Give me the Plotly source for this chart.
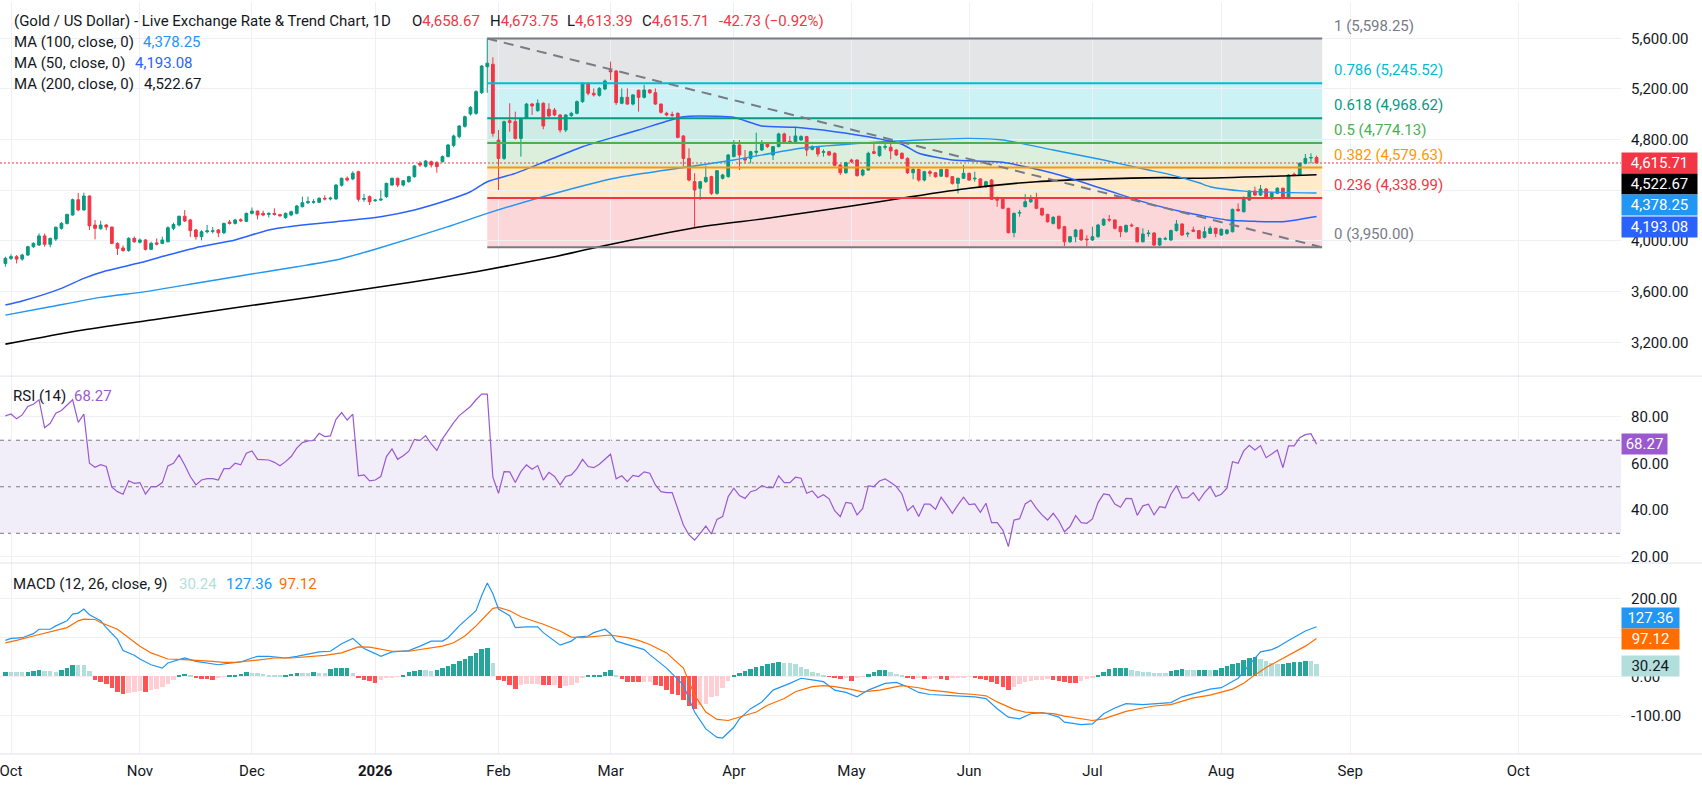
import pandas as pd
import plotly.graph_objects as go

FONT = "Roboto, 'Open Sans', sans-serif"
INK = "#131722"
UP, DOWN = "#089981", "#F23645"
GRID = "#eef0f4"

# trading calendar of the daily bars (weekdays, minus days without a bar)
first_day, last_day = "2025-09-30", "2026-08-26"
holidays = ["2025-12-25", "2026-04-03"]

# daily candles (one row = 10 bars)
opens = [
    3823, 3863, 3876, 3857, 3889, 3955, 3968, 4040, 3974, 4015,
    4100, 4139, 4205, 4326, 4245, 4355, 4126, 4097, 4126, 4110,
    3981, 3945, 3925, 4021, 3990, 4008, 3934, 3985, 3981, 3994,
    4100, 4126, 4195, 4166, 4087, 4034, 4073, 4076, 4087, 4065,
    4150, 4139, 4168, 4155, 4218, 4236, 4218, 4210, 4218, 4208,
    4184, 4205, 4218, 4271, 4302, 4305, 4305, 4337, 4332, 4332,
    4440, 4495, 4490, 4547, 4329, 4350, 4318, 4323, 4350, 4442,
    4495, 4442, 4468, 4508, 4613, 4590, 4626, 4620, 4626, 4666,
    4755, 4824, 4905, 5003, 5008, 5171, 5376, 5395, 4797, 4652,
    4950, 4942, 4810, 4975, 5081, 5029, 5087, 5040, 5034, 4995,
    4876, 4990, 5008, 5100, 5240, 5166, 5150, 5200, 5345, 5342,
    5087, 5134, 5081, 5190, 5134, 5192, 5171, 5081, 5008, 4998,
    5008, 4829, 4652, 4468, 4416, 4468, 4508, 4376, 4495, 4508,
    4666, 4758, 4652, 4652, 4700, 4718, 4771, 4679, 4745, 4845,
    4787, 4784, 4797, 4824, 4724, 4740, 4700, 4705, 4692, 4600,
    4539, 4639, 4639, 4521, 4560, 4705, 4674, 4740, 4740, 4718,
    4692, 4652, 4539, 4565, 4481, 4547, 4539, 4512, 4565, 4508,
    4455, 4495, 4534, 4490, 4490, 4429, 4481, 4329, 4329, 4258,
    4066, 4220, 4271, 4310, 4329, 4258, 4210, 4139, 4195, 4113,
    3994, 4034, 4087, 4015, 4008, 4034, 4126, 4171, 4166, 4113,
    4073, 4126, 4105, 3994, 4058, 4063, 3968, 4015, 4008, 4082,
    4134, 4055, 4087, 4082, 4029, 4060, 4100, 4047, 4060, 4073,
    4250, 4231, 4323, 4395, 4363, 4410, 4345, 4376, 4416, 4337,
    4526, 4521, 4613, 4655, 4658.67,
]
highs = [
    3876, 3895, 3889, 3900, 3962, 3990, 4060, 4058, 4025, 4115,
    4150, 4215, 4335, 4380, 4381, 4360, 4166, 4160, 4135, 4112,
    3990, 3965, 4030, 4035, 4020, 4015, 3995, 4021, 4034, 4115,
    4145, 4200, 4245, 4175, 4095, 4085, 4126, 4110, 4095, 4145,
    4166, 4175, 4179, 4225, 4264, 4240, 4240, 4225, 4258, 4215,
    4225, 4240, 4285, 4350, 4350, 4330, 4345, 4360, 4350, 4448,
    4500, 4510, 4550, 4555, 4372, 4360, 4330, 4402, 4460, 4500,
    4500, 4480, 4515, 4600, 4630, 4640, 4635, 4630, 4675, 4765,
    4840, 4915, 4990, 5065, 5190, 5390, 5598.25, 5450, 4876, 4950,
    5087, 5021, 4965, 5090, 5090, 5118, 5095, 5087, 5050, 5000,
    5000, 5020, 5110, 5255, 5255, 5205, 5215, 5275, 5416, 5350,
    5205, 5205, 5160, 5195, 5232, 5200, 5205, 5085, 5020, 5021,
    5015, 4835, 4731, 4534, 4475, 4595, 4515, 4560, 4530, 4687,
    4797, 4797, 4718, 4712, 4855, 4797, 4780, 4750, 4855, 4855,
    4829, 4897, 4835, 4830, 4755, 4745, 4723, 4712, 4700, 4605,
    4625, 4650, 4645, 4570, 4705, 4771, 4752, 4771, 4766, 4725,
    4700, 4660, 4575, 4570, 4555, 4560, 4545, 4570, 4570, 4512,
    4500, 4600, 4540, 4547, 4495, 4475, 4490, 4350, 4335, 4262,
    4225, 4245, 4370, 4363, 4380, 4262, 4215, 4195, 4200, 4120,
    4040, 4095, 4095, 4045, 4113, 4135, 4180, 4205, 4170, 4120,
    4130, 4139, 4110, 4100, 4087, 4070, 4025, 4034, 4090, 4166,
    4140, 4073, 4113, 4087, 4113, 4118, 4105, 4100, 4095, 4255,
    4297, 4350, 4400, 4429, 4442, 4418, 4388, 4425, 4422, 4528,
    4540, 4620, 4687, 4692, 4673.75,
]
lows = [
    3797, 3850, 3823, 3845, 3882, 3945, 3960, 3955, 3950, 4000,
    4090, 4130, 4200, 4235, 4240, 4087, 4013, 4090, 4085, 3975,
    3889, 3915, 3915, 3985, 3980, 3925, 3928, 3965, 3975, 3990,
    4085, 4115, 4150, 4032, 4010, 4005, 4060, 4060, 4030, 4055,
    4130, 4130, 4150, 4150, 4210, 4170, 4195, 4185, 4200, 4190,
    4175, 4195, 4210, 4265, 4292, 4295, 4300, 4320, 4320, 4325,
    4430, 4470, 4480, 4310, 4310, 4284, 4310, 4315, 4340, 4435,
    4425, 4430, 4460, 4500, 4585, 4580, 4580, 4540, 4620, 4660,
    4740, 4810, 4895, 4990, 4995, 5160, 5170, 4824, 4402, 4640,
    4863, 4800, 4666, 4965, 4995, 5020, 4882, 4975, 4985, 4855,
    4860, 4980, 5000, 5090, 5150, 5140, 5140, 5190, 5270, 5074,
    5080, 5074, 5070, 5021, 5125, 5160, 5075, 5005, 4985, 4980,
    4810, 4587, 4470, 4100, 4323, 4460, 4363, 4365, 4485, 4500,
    4660, 4560, 4613, 4613, 4666, 4710, 4735, 4639, 4740, 4775,
    4770, 4775, 4790, 4670, 4715, 4666, 4666, 4670, 4590, 4521,
    4530, 4615, 4508, 4510, 4555, 4685, 4665, 4720, 4645, 4670,
    4645, 4530, 4487, 4468, 4470, 4508, 4500, 4505, 4500, 4445,
    4376, 4490, 4475, 4468, 4420, 4420, 4323, 4271, 4250, 4060,
    4030, 4192, 4265, 4300, 4250, 4195, 4145, 4130, 4090, 3960,
    3985, 3990, 4000, 3955, 4000, 4025, 4118, 4150, 4090, 4030,
    4065, 4110, 3988, 3988, 4034, 3960, 3960, 4005, 4000, 4075,
    4040, 4030, 4070, 4015, 4020, 4055, 4030, 4040, 4050, 4068,
    4230, 4225, 4318, 4355, 4355, 4338, 4323, 4370, 4330, 4330,
    4510, 4515, 4605, 4613, 4613.39,
]
closes = [
    3863, 3876, 3857, 3889, 3955, 3981, 4040, 3974, 4021, 4108,
    4139, 4210, 4326, 4245, 4355, 4120, 4100, 4126, 4110, 3981,
    3942, 3925, 4021, 3994, 4008, 3934, 3981, 3975, 4008, 4105,
    4130, 4195, 4158, 4082, 4034, 4073, 4080, 4080, 4065, 4139,
    4139, 4166, 4160, 4218, 4236, 4205, 4205, 4218, 4210, 4200,
    4218, 4231, 4276, 4302, 4310, 4310, 4337, 4332, 4338, 4442,
    4495, 4481, 4534, 4329, 4335, 4310, 4323, 4330, 4455, 4495,
    4442, 4476, 4508, 4592, 4600, 4631, 4600, 4587, 4666, 4758,
    4829, 4908, 4981, 5055, 5179, 5381, 5403, 4850, 4652, 4942,
    4935, 4810, 4960, 5081, 5066, 5087, 4908, 4987, 4995, 4876,
    4995, 5008, 5100, 5245, 5166, 5153, 5205, 5263, 5336, 5092,
    5134, 5081, 5153, 5134, 5192, 5171, 5081, 5016, 4995, 4992,
    4818, 4652, 4481, 4402, 4468, 4502, 4376, 4555, 4521, 4679,
    4758, 4679, 4639, 4705, 4707, 4766, 4745, 4745, 4845, 4784,
    4781, 4829, 4824, 4718, 4745, 4687, 4705, 4679, 4597, 4539,
    4618, 4626, 4516, 4560, 4692, 4692, 4745, 4745, 4711, 4679,
    4652, 4539, 4565, 4481, 4547, 4534, 4508, 4565, 4508, 4455,
    4495, 4534, 4481, 4495, 4429, 4468, 4329, 4323, 4258, 4066,
    4218, 4225, 4310, 4329, 4258, 4205, 4152, 4187, 4100, 3994,
    4034, 4087, 4008, 4010, 4034, 4126, 4171, 4166, 4100, 4073,
    4123, 4120, 3994, 4055, 4062, 3968, 4021, 4018, 4082, 4134,
    4047, 4060, 4077, 4021, 4073, 4100, 4060, 4092, 4087, 4250,
    4240, 4345, 4395, 4363, 4410, 4345, 4381, 4416, 4337, 4521,
    4521, 4613, 4652, 4659, 4615.71,
]

# moving averages: (bar index, value) points
ma50 = [(0, 3494), (3, 3526), (10, 3626), (14, 3705), (18, 3765), (24, 3828), (29, 3889),
        (34, 3947), (41, 4008), (47, 4087), (53, 4126), (59, 4152), (67, 4192), (73, 4245),
        (79, 4323), (83, 4389), (86, 4468), (91, 4534), (97, 4639), (103, 4744), (108, 4812),
        (113, 4876), (121, 4981), (127, 4984), (130, 4976), (135, 4908), (141, 4897),
        (148, 4863), (154, 4823), (160, 4764), (163, 4692), (169, 4639), (178, 4621),
        (187, 4534), (196, 4410), (204, 4297), (210, 4231), (213, 4205), (218, 4166),
        (223, 4155), (228, 4152), (234, 4193.08)]
ma100 = [(0, 3415), (8, 3481), (17, 3555), (25, 3600), (34, 3666), (41, 3718), (52, 3797),
         (59, 3850), (66, 3935), (79, 4113), (86, 4218), (97, 4363), (106, 4468), (110, 4507),
         (118, 4560), (130, 4639), (142, 4732), (154, 4776), (163, 4797), (172, 4810),
         (178, 4797), (187, 4718), (196, 4639), (204, 4560), (207, 4534), (213, 4460),
         (215, 4428), (221, 4394), (234, 4378.25)]
ma200 = [(0, 3186), (13, 3292), (27, 3382), (41, 3473), (55, 3560), (70, 3658), (84, 3757),
         (98, 3876), (106, 3955), (123, 4105), (136, 4179), (151, 4276), (161, 4345),
         (172, 4416), (184, 4468), (196, 4490), (207, 4500), (213, 4495), (229, 4515),
         (234, 4522.67)]

# RSI(14), one value per bar
rsi = [
    80.5, 81.3, 79.2, 80.9, 84.5, 85.5, 87.4, 75.4, 77.3, 81.6,
    82.8, 85.2, 87.4, 77.7, 81.2, 60.1, 58.4, 59.5, 58.7, 49.8,
    47.9, 46.8, 52.6, 51.5, 51.8, 46.9, 50.1, 50.1, 51.8, 59.0,
    60.1, 63.7, 59.4, 54.4, 50.8, 52.9, 53.5, 53.5, 52.9, 57.8,
    57.8, 60.1, 59.4, 64.4, 65.4, 61.8, 61.5, 61.5, 60.5, 59.0,
    60.8, 63.0, 66.6, 69.0, 69.7, 69.9, 73.0, 71.6, 71.9, 79.0,
    81.9, 78.7, 81.2, 54.7, 55.1, 52.5, 52.9, 54.4, 63.0, 66.3,
    61.8, 63.3, 65.3, 70.4, 69.9, 72.0, 68.4, 65.6, 70.6, 74.4,
    77.6, 80.6, 82.6, 84.5, 87.4, 89.8, 89.8, 54.1, 47.2, 56.5,
    56.4, 51.8, 56.5, 59.4, 57.5, 59.1, 52.9, 56.2, 54.4, 50.8,
    54.4, 55.1, 57.8, 61.8, 58.7, 58.2, 59.7, 62.0, 64.0, 53.4,
    54.7, 52.2, 54.9, 54.4, 56.4, 55.8, 50.8, 47.9, 47.5, 47.5,
    40.7, 33.6, 29.3, 27.1, 30.0, 33.1, 29.7, 36.0, 37.2, 45.8,
    49.4, 46.2, 45.0, 47.9, 48.6, 50.5, 49.6, 49.6, 54.7, 51.8,
    51.8, 54.1, 53.7, 47.2, 48.2, 45.3, 46.6, 44.8, 39.7, 37.2,
    43.3, 42.9, 37.9, 40.7, 50.4, 50.1, 52.5, 53.4, 51.8, 50.1,
    46.9, 39.7, 41.9, 37.2, 42.5, 42.5, 40.3, 45.5, 42.2, 38.6,
    42.2, 45.5, 42.3, 42.6, 39.0, 42.9, 34.6, 34.6, 31.4, 24.3,
    35.7, 36.3, 42.6, 44.2, 40.7, 37.9, 35.7, 38.6, 35.4, 30.7,
    32.9, 37.6, 34.6, 34.3, 36.2, 43.2, 46.9, 46.5, 42.6, 41.2,
    45.0, 44.9, 37.7, 41.8, 42.5, 37.9, 41.5, 41.0, 46.8, 50.5,
    45.2, 45.3, 47.5, 44.0, 47.5, 50.1, 45.8, 46.8, 49.4, 60.8,
    60.1, 65.4, 67.8, 65.8, 67.7, 62.5, 64.1, 65.8, 58.2, 67.6,
    67.6, 71.1, 72.4, 72.8, 68.27,
]

# MACD (12, 26, 9): histogram per bar, lines as (bar index, value) points
macd_hist = [
    10, 9.8, 9.6, 9.5, 12, 14, 16, 13, 12.5, 12,
    16, 20, 29, 28.5, 27.5, 13, -8.6, -14.7, -19.9, -30,
    -41.5, -45.8, -42, -39.5, -39, -40.6, -34.6, -32.8, -28.5, -20,
    -10.4, 4.3, 6, 2.6, -5, -6.9, -7.2, -9.5, -4.3, -0.9,
    2.6, 4.3, 6.9, 10.4, 8.6, 8.4, 6.9, 4.3, 2.6, 2.2,
    4.3, 6.9, 7.8, 7.6, 7.4, 10.4, 8.6, 8.4, 17.3, 19.9,
    20.2, 21.6, 8.6, -2.6, -8.6, -13, -17.3, -9.5, -4.3, -4.0,
    -1.7, 4.3, 10.4, 13, 15.6, 15, 13, 15.6, 21.6, 25.9,
    30, 38.9, 43.2, 51.8, 60, 69.1, 73.4, 34.6, -8.6, -13,
    -23, -32.8, -21.6, -20, -19.9, -19.5, -23.3, -23.5, -21.6, -30.2,
    -25.9, -23.3, -17.3, -2.6, 2.6, 2.8, 4.3, 10.4, 15.6, 2.6,
    -6, -14.7, -15, -15.5, -14.7, -14.5, -23.3, -26, -35, -45,
    -48, -62, -76, -84, -74, -70, -54, -50, -30, -12,
    3, 8, 13, 18, 23, 27, 30, 33, 36, 35,
    34, 30, 24, 18, 12, 8, 4, -2, -5, -8,
    -4, -13, -3, -1, 5, 12, 15, 15.5, 10, 6,
    2, -4, -6, -5, -7, -6, -5, -8, -9, -4,
    -4, -3, -1.5, -5, -8, -10, -14, -20, -28, -35,
    -28, -20, -15, -12, -10, -9, -8, -8.5, -12, -16,
    -18, -18.5, -12, -8, -5, 3, 10, 18, 20, 20.5,
    21, 15, 14, 12, 10, 8, 7.5, 7, 14, 17,
    17.5, 16, 15.5, 16.5, 17, 16, 17, 20, 26, 30,
    35, 42, 46, 48, 45, 40, 35, 30, 31, 33,
    36, 37, 40, 38, 30.24,
]
macd_line = [(0, 92.5), (1, 97.6), (3, 99.4), (5, 109.7), (6, 121), (8, 121), (9, 129.6),
             (11, 142.6), (12, 159.8), (13, 162.4), (14, 172.8), (15, 158), (17, 142.6),
             (18, 125.3), (20, 95), (21, 66.5), (23, 54.4), (24, 44.9), (26, 30.2), (28, 21.6),
             (29, 34.6), (32, 47.5), (34, 38.9), (36, 34.6), (38, 30.2), (40, 34.6), (42, 37.2),
             (44, 47.5), (45, 51.8), (47, 51.8), (50, 47.5), (52, 51.8), (54, 57.9), (56, 63.1),
             (58, 64.8), (60, 83.8), (62, 97.6), (64, 71.7), (66, 58.8), (67, 51.8), (69, 63.1),
             (72, 66.5), (74, 77.8), (76, 90.7), (78, 90.7), (79, 99.4), (81, 129.6), (84, 168.5),
             (85, 207.4), (86, 239.3), (87, 211.7), (88, 172.8), (90, 155.5), (91, 125.3),
             (93, 127), (95, 127), (96, 112.3), (98, 90.7), (99, 80.4), (101, 90.7), (102, 101.1),
             (104, 103.7), (105, 112.3), (107, 121), (108, 109.7), (109, 90.7), (111, 82.1),
             (112, 77.8), (114, 69.1), (115, 56.2), (118, 21.6), (121, -21.6), (123, -90.7),
             (125, -133.9), (127, -155.5), (128, -157.2), (130, -129.6), (131, -108),
             (133, -82.1), (135, -64.8), (137, -34.6), (140, -17.3), (142, -4.3), (144, -8.6),
             (146, -13), (148, -34.6), (150, -40.6), (152, -51.8), (154, -34.6), (157, -17.3),
             (159, -14.7), (161, -25.9), (163, -40.6), (165, -45.8), (168, -47.5), (170, -50.1),
             (173, -51.8), (175, -56.2), (177, -82.1), (179, -103.7), (181, -108), (183, -95),
             (185, -92.4), (186, -95), (188, -103.7), (189, -116.6), (192, -122.7), (194, -121),
             (196, -95), (198, -80.4), (200, -69.1), (203, -71.7), (205, -69.1), (208, -66.5),
             (210, -51.8), (212, -43.2), (215, -32), (217, -28.5), (220, -4.3), (222, 30.2),
             (224, 63.1), (226, 69.1), (227, 75.2), (229, 92.4), (232, 116.6), (234, 127.36)]
signal_line = [(0, 86.4), (2, 92.4), (5, 103.7), (8, 114), (11, 125.3), (13, 142.6), (14, 146.9),
               (16, 146), (17, 138.2), (20, 121), (22, 99.4), (24, 77.8), (26, 60.5), (29, 44.9),
               (32, 43.2), (35, 41.5), (37, 38.9), (39, 36.3), (41, 36.3), (45, 42.3), (48, 47.5),
               (51, 47.5), (54, 50.1), (57, 54.4), (60, 60.5), (63, 76), (65, 75.2), (67, 69.1),
               (69, 64.8), (72, 64.8), (75, 71.7), (78, 77.8), (80, 86.4), (82, 103.7),
               (84, 129.6), (86, 159.8), (87, 174.5), (88, 177.1), (90, 168.5), (92, 152.9),
               (94, 144.3), (96, 133.9), (99, 116.6), (101, 101.1), (103, 99.4), (106, 103.7),
               (108, 106.3), (111, 99.4), (113, 92.4), (115, 82.1), (118, 60.5), (121, 21.6),
               (123, -47.5), (125, -90.7), (127, -109.7), (129, -112.3), (131, -103.7),
               (134, -90.7), (136, -73.4), (139, -56.2), (141, -38.9), (144, -25.9), (146, -23.3),
               (148, -25.9), (151, -32.8), (153, -38.9), (156, -34.6), (158, -28.5), (160, -23.3),
               (163, -28.5), (165, -34.6), (168, -38.9), (170, -43.2), (173, -45.8), (175, -49.2),
               (177, -64.8), (180, -83.8), (182, -90.7), (185, -92.4), (187, -95), (189, -101.1),
               (192, -108), (194, -112.3), (196, -108), (198, -99.4), (200, -89), (203, -80.4),
               (205, -75.2), (208, -71.7), (210, -63.1), (212, -54.4), (215, -47.5), (217, -38.9),
               (219, -32), (221, -17.3), (223, 4.3), (225, 23.3), (227, 38.9), (229, 56.2),
               (232, 77.8), (234, 97.12)]

# Fibonacci retracement drawn from the Jan 29 high to the 3,950 low
fib_ratios = [1, 0.786, 0.618, 0.5, 0.382, 0.236, 0]
fib_prices = [5598.25, 5245.52, 4968.62, 4774.13, 4579.63, 4338.99, 3950.00]
fib_colors = ["#787B86", "#00BCD4", "#089981", "#4CAF50", "#FF9800", "#F23645", "#787B86"]
fib_start, fib_end = "2026-01-29 12:00", "2026-08-27 12:00"

price_ticks = [3200, 3600, 4000, 4400, 4800, 5200, 5600]
rsi_ticks = [20, 40, 60, 80]
macd_ticks = [-100, 0, 100, 200]
month_starts = ["2025-10-01", "2025-11-03", "2025-12-01", "2026-01-01", "2026-02-02",
                "2026-03-02", "2026-04-01", "2026-05-01", "2026-06-01", "2026-07-01",
                "2026-08-03", "2026-09-01", "2026-10-01"]
month_labels = ["Oct", "Nov", "Dec", "<b>2026</b>", "Feb", "Mar", "Apr", "May", "Jun", "Jul",
                "Aug", "Sep", "Oct"]

# ---------------------------------------------------------------------------
days = pd.bdate_range(first_day, last_day)
days = days[~days.isin(pd.to_datetime(holidays))]
assert len(days) == len(closes) == len(opens) == len(highs) == len(lows) == len(rsi) == len(macd_hist)
x = days + pd.Timedelta(hours=12)          # bars sit mid-day
bar_days = set(days.strftime("%Y-%m-%d"))
gaps = [d for d in pd.date_range(first_day, last_day).strftime("%Y-%m-%d") if d not in bar_days]
half = pd.Timedelta(hours=12)


def line_xy(pts):
    return [x[i] for i, _ in pts], [v for _, v in pts]


hist_colors = []
prev = 0
for h in macd_hist:
    if h >= 0:
        hist_colors.append("#26A69A" if h > prev else "#B2DFDB")
    else:
        hist_colors.append("#FF5252" if h < prev else "#FFCDD2")
    prev = h

RSI_C = "#9b59d0"
fig = go.Figure()

fig.add_trace(go.Candlestick(
    x=x, open=opens, high=highs, low=lows, close=closes,
    increasing=dict(line=dict(color=UP, width=1), fillcolor=UP),
    decreasing=dict(line=dict(color=DOWN, width=1), fillcolor=DOWN),
    whiskerwidth=0, xaxis="x", yaxis="y", hoverinfo="skip"))
for pts, col, w in [(ma200, "#000000", 1.6), (ma100, "#2196F3", 1.4), (ma50, "#2962FF", 1.5)]:
    mx, my = line_xy(pts)
    fig.add_trace(go.Scatter(x=mx, y=my, mode="lines", xaxis="x", yaxis="y",
                             line=dict(color=col, width=w, shape="spline", smoothing=0.6)))

fig.add_trace(go.Scatter(x=x, y=rsi, mode="lines", xaxis="x2", yaxis="y2",
                         line=dict(color=RSI_C, width=1.2)))

fig.add_trace(go.Bar(x=x, y=macd_hist, marker=dict(color=hist_colors, line=dict(width=0)),
                     width=0.8 * 86400000, xaxis="x3", yaxis="y3"))
mx, my = line_xy(macd_line)
fig.add_trace(go.Scatter(x=mx, y=my, mode="lines", xaxis="x3", yaxis="y3",
                         line=dict(color="#2196F3", width=1.2)))
mx, my = line_xy(signal_line)
fig.add_trace(go.Scatter(x=mx, y=my, mode="lines", xaxis="x3", yaxis="y3",
                         line=dict(color="#FF6D00", width=1.2)))

x_view = [pd.Timestamp("2025-09-29 12:52"), pd.Timestamp("2026-10-19 20:00")]
tick_x = [pd.Timestamp(m) + half for m in month_starts]
xcommon = dict(range=x_view, rangebreaks=[dict(values=gaps, dvalue=86400000)],
               tickvals=tick_x, ticktext=month_labels, showgrid=True, gridcolor=GRID,
               zeroline=False, showline=False, ticks="", fixedrange=True)
ycommon = dict(side="right", showgrid=True, gridcolor=GRID, zeroline=False, showline=False,
               ticks="", ticklabelstandoff=9, automargin=False, fixedrange=True,
               tickfont=dict(size=15, color=INK))

# labels that sit under the value tags in the original: only their grid lines show
price_text = ["" if v == 4400 else f"{v:,.2f}" for v in price_ticks]
macd_text = ["" if v == 100 else f"{v:.2f}" for v in macd_ticks]

fig.update_layout(
    width=1702, height=791,
    margin=dict(l=0, r=81, t=2, b=37, pad=0),
    paper_bgcolor="white", plot_bgcolor="white",
    showlegend=False, hovermode=False, bargap=0,
    font=dict(family=FONT, size=15, color=INK),
    xaxis=dict(xcommon, domain=[0, 1], anchor="y", showticklabels=False,
               rangeslider=dict(visible=False)),
    xaxis2=dict(xcommon, domain=[0, 1], anchor="y2", showticklabels=False),
    xaxis3=dict(xcommon, domain=[0, 1], anchor="y3", showticklabels=True,
                tickfont=dict(size=15, color=INK), ticklabelstandoff=6,
                ticklabeloverflow="allow"),
    yaxis=dict(ycommon, domain=[0.503, 1], anchor="x", range=[2936.2, 5886.6],
               tickvals=price_ticks, ticktext=price_text),
    yaxis2=dict(ycommon, domain=[0.2545, 0.502], anchor="x2", range=[17.4, 97.4],
                tickvals=rsi_ticks, ticktext=[f"{v:.2f}" for v in rsi_ticks]),
    yaxis3=dict(ycommon, domain=[0, 0.2535], anchor="x3", range=[-198, 289.5],
                tickvals=macd_ticks, ticktext=macd_text),
)

shapes = []
# fib zones and levels
for i in range(len(fib_prices) - 1):
    shapes.append(dict(type="rect", xref="x", yref="y", x0=fib_start, x1=fib_end,
                       y0=fib_prices[i + 1], y1=fib_prices[i], line=dict(width=0),
                       fillcolor=fib_colors[i], opacity=0.2, layer="below"))
shapes.append(dict(type="line", xref="x domain", yref="y", x0=0, x1=1,
                   y0=closes[-1], y1=closes[-1], layer="below",
                   line=dict(color=DOWN, width=1, dash="2px,2px")))
for p, col in zip(fib_prices, fib_colors):
    shapes.append(dict(type="line", xref="x", yref="y", x0=fib_start, x1=fib_end, y0=p, y1=p,
                       line=dict(color=col, width=2), layer="above"))
shapes.append(dict(type="line", xref="x", yref="y", x0=fib_start, x1=fib_end,
                   y0=fib_prices[0], y1=fib_prices[-1], layer="above",
                   line=dict(color="#787B86", width=2, dash="10px,7px")))
# RSI band
shapes.append(dict(type="rect", xref="x2 domain", yref="y2", x0=0, x1=1, y0=30, y1=70,
                   fillcolor="rgba(126,87,194,0.1)", line=dict(width=0), layer="below"))
for lv in [70, 50, 30]:
    shapes.append(dict(type="line", xref="x2 domain", yref="y2", x0=0, x1=1, y0=lv, y1=lv,
                       line=dict(color="#787B86", width=1, dash="4px,4px"), layer="below"))
# pane separators
for yp in [0.5025, 0.254, 0.0]:
    shapes.append(dict(type="line", xref="paper", yref="paper", x0=0, x1=1.06, y0=yp, y1=yp,
                       line=dict(color="#e0e3eb", width=1)))
fig.update_layout(shapes=shapes)

PW, PB, PH = 1621.0, 754.0, 752.0
ann = []


def legend(px, py, text, color=INK):
    ann.append(dict(x=px / PW, y=(PB - py) / PH, xref="paper", yref="paper", text=text,
                    showarrow=False, xanchor="left", yanchor="middle",
                    font=dict(size=15, color=color)))


red = lambda s: f"<span style='color:{DOWN}'>{s}</span>"
legend(12, 21, "(Gold / US Dollar) - Live Exchange Rate & Trend Chart, 1D")
legend(410, 21, "O" + red(f"{opens[-1]:,.2f}"))
legend(488, 21, "H" + red(f"{highs[-1]:,.2f}"))
legend(565, 21, "L" + red(f"{lows[-1]:,.2f}"))
legend(640, 21, "C" + red(f"{closes[-1]:,.2f}"))
legend(717, 21, red("-42.73 (\u22120.92%)"))
legend(12, 42, "MA (100, close, 0)")
legend(141, 42, f"{ma100[-1][1]:,.2f}", "#2196F3")
legend(12, 63, "MA (50, close, 0)")
legend(133, 63, f"{ma50[-1][1]:,.2f}", "#2962FF")
legend(12, 84, "MA (200, close, 0)")
legend(142, 84, f"{ma200[-1][1]:,.2f}", INK)
legend(11, 396, "RSI (14)")
legend(72, 396, f"{rsi[-1]:.2f}", RSI_C)
legend(11, 584, "MACD (12, 26, close, 9)")
legend(177, 584, f"{macd_hist[-1]:.2f}", "#B2DFDB")
legend(224, 584, f"{macd_line[-1][1]:.2f}", "#2196F3")
legend(277, 584, f"{signal_line[-1][1]:.2f}", "#FF6D00")

for r, p, col in zip(fib_ratios, fib_prices, fib_colors):
    ann.append(dict(x=fib_end, y=p, xref="x", yref="y", text=f"{r} ({p:,.2f})",
                    showarrow=False, xanchor="left", yanchor="bottom", xshift=10, yshift=2,
                    font=dict(size=15, color=col)))


def tag(yref, val, bg, width, yshift=0, fg="white", fmt="{:,.2f}"):
    ann.append(dict(x=1, xref="paper", y=val, yref=yref, text=fmt.format(val),
                    showarrow=False, xanchor="left", yanchor="middle", yshift=yshift,
                    bgcolor=bg, width=width, borderpad=1, align="center",
                    font=dict(size=15, color=fg)))


tag("y", closes[-1], DOWN, 73)
tag("y", ma200[-1][1], "#000000", 73, -9)
tag("y", ma100[-1][1], "#2196F3", 73, -12)
tag("y", ma50[-1][1], "#2962FF", 73, -10.5)
tag("y2", rsi[-1], RSI_C, 43, 0, fmt="{:.2f}")
tag("y3", macd_line[-1][1], "#2196F3", 55, 9, fmt="{:.2f}")
tag("y3", signal_line[-1][1], "#FF6D00", 55, 0, fmt="{:.2f}")
tag("y3", macd_hist[-1], "#B2DFDB", 55, -1, fg=INK, fmt="{:.2f}")
fig.update_layout(annotations=ann)

fig.write_html("out.html", config={"displayModeBar": False},
               post_script="document.body.style.margin='0';")
